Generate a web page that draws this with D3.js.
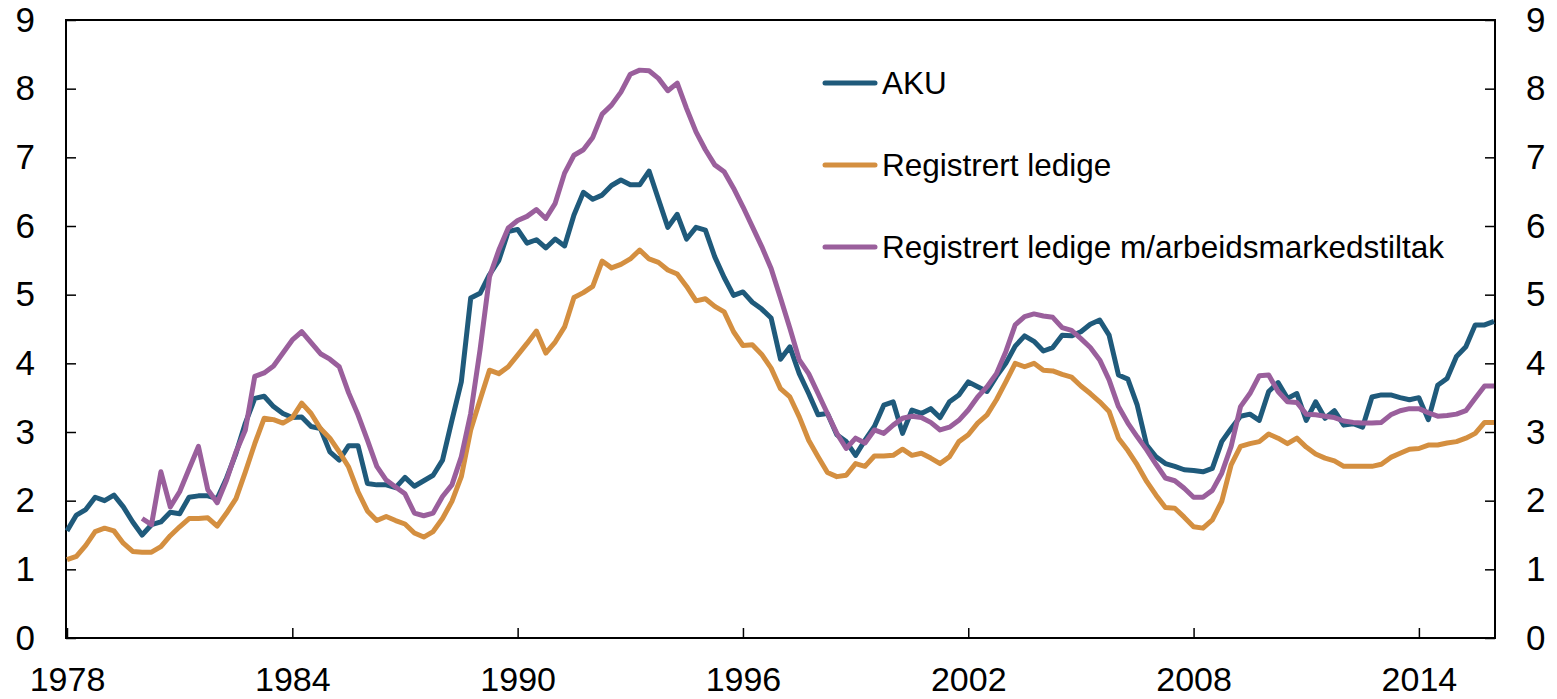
<!DOCTYPE html>
<html>
<head>
<meta charset="utf-8">
<script src="https://cdn.jsdelivr.net/npm/d3@7"></script>
<style>
  body { margin: 0; background: #fff; }
  svg { display: block; font-family: 'Liberation Sans', Arial, sans-serif; }
</style>
</head>
<body>
<svg width="1557" height="699"></svg>
<script>
const startYear = 1978;
const yearTicks = [1978, 1984, 1990, 1996, 2002, 2008, 2014];
const valueTicks = [0, 1, 2, 3, 4, 5, 6, 7, 8, 9];
const seriesNames = ['AKU', 'Registrert ledige', 'Registrert ledige m/arbeidsmarkedstiltak'];
const seriesColors = ['#1f5a7b', '#d48f40', '#9a5f9c'];

// quarterly, 1978K1 - 2016K1
const aku = [
  1.56, 1.79, 1.87, 2.05, 2.0, 2.08, 1.91, 1.69, 1.5, 1.65,
  1.69, 1.83, 1.81, 2.05, 2.07, 2.07, 2.03, 2.33, 2.69, 3.13,
  3.49, 3.52, 3.37, 3.27, 3.21, 3.22, 3.08, 3.05, 2.71, 2.59,
  2.8, 2.8, 2.25, 2.23, 2.23, 2.19, 2.34, 2.21, 2.29, 2.37,
  2.59, 3.17, 3.73, 4.95, 5.02, 5.29, 5.5, 5.92, 5.95, 5.75,
  5.8, 5.68, 5.81, 5.71, 6.16, 6.49, 6.39, 6.45, 6.59, 6.67,
  6.6, 6.6, 6.8, 6.39, 5.98, 6.17, 5.81, 5.98, 5.94, 5.55,
  5.25, 4.99, 5.04, 4.89, 4.79, 4.66, 4.06, 4.24, 3.85, 3.56,
  3.25, 3.27, 2.96, 2.86, 2.66, 2.88, 3.08, 3.39, 3.44, 2.98,
  3.32, 3.27, 3.34, 3.21, 3.44, 3.54, 3.73, 3.66, 3.59, 3.81,
  4.0, 4.25, 4.4, 4.32, 4.18, 4.23, 4.41, 4.4, 4.46, 4.57,
  4.63, 4.41, 3.83, 3.77, 3.39, 2.81, 2.64, 2.54, 2.5, 2.45,
  2.44, 2.42, 2.47, 2.86, 3.05, 3.23, 3.26, 3.17, 3.59, 3.72,
  3.49, 3.56, 3.17, 3.44, 3.2, 3.31, 3.1, 3.12, 3.07, 3.51,
  3.54, 3.54, 3.5, 3.47, 3.5, 3.18, 3.68, 3.78, 4.1, 4.24,
  4.56, 4.56, 4.61
];

const registrert = [
  1.14, 1.19, 1.35, 1.55, 1.6, 1.56, 1.38, 1.26, 1.25, 1.25,
  1.33, 1.49, 1.62, 1.74, 1.74, 1.75, 1.63, 1.82, 2.03, 2.42,
  2.83, 3.2, 3.18, 3.13, 3.21, 3.42, 3.27, 3.05, 2.91, 2.71,
  2.49, 2.13, 1.85, 1.71, 1.77, 1.71, 1.66, 1.53, 1.47, 1.55,
  1.74, 1.99, 2.35, 3.03, 3.47, 3.9, 3.85, 3.95, 4.12, 4.29,
  4.47, 4.15, 4.31, 4.53, 4.96, 5.03, 5.12, 5.49, 5.39, 5.44,
  5.52, 5.65, 5.52, 5.47, 5.36, 5.3, 5.12, 4.91, 4.94, 4.83,
  4.75, 4.46, 4.26, 4.27, 4.13, 3.93, 3.63, 3.51, 3.22, 2.88,
  2.64, 2.41, 2.35, 2.37, 2.54, 2.5, 2.65, 2.65, 2.66, 2.75,
  2.66, 2.69, 2.62, 2.54, 2.64, 2.86, 2.96, 3.13, 3.25, 3.47,
  3.73, 4.0, 3.95, 4.0, 3.9, 3.89, 3.84, 3.8, 3.67, 3.56,
  3.44, 3.3, 2.91, 2.73, 2.52, 2.28, 2.08, 1.9, 1.89, 1.76,
  1.62, 1.6, 1.72, 1.99, 2.52, 2.79, 2.83, 2.86, 2.97, 2.91,
  2.83, 2.91, 2.78, 2.68, 2.62, 2.58, 2.5, 2.5, 2.5, 2.5,
  2.53, 2.63, 2.69, 2.75, 2.76, 2.81, 2.81, 2.84, 2.86, 2.91,
  2.98, 3.14, 3.14
];

const registrertTiltak = [
  null, null, null, null, null, null, null, null, 1.74, 1.65,
  2.42, 1.91, 2.13, 2.46, 2.79, 2.16, 1.97, 2.3, 2.71, 3.03,
  3.81, 3.86, 3.96, 4.15, 4.34, 4.46, 4.3, 4.14, 4.06, 3.95,
  3.57, 3.25, 2.88, 2.5, 2.3, 2.2, 2.1, 1.82, 1.78, 1.82,
  2.06, 2.23, 2.64, 3.27, 4.2, 5.26, 5.65, 5.97, 6.08, 6.14,
  6.24, 6.11, 6.33, 6.77, 7.03, 7.11, 7.29, 7.63, 7.76, 7.95,
  8.21, 8.27, 8.26, 8.15, 7.97, 8.08, 7.71, 7.37, 7.11, 6.89,
  6.79, 6.55, 6.28, 5.99, 5.7, 5.38, 4.95, 4.51, 4.05, 3.85,
  3.56, 3.27, 2.98, 2.76, 2.91, 2.84, 3.03, 2.98, 3.1, 3.2,
  3.23, 3.21, 3.14, 3.03, 3.07, 3.17, 3.32, 3.51, 3.66, 3.85,
  4.17, 4.56, 4.68, 4.72, 4.69, 4.67, 4.52, 4.48, 4.36, 4.23,
  4.05, 3.76, 3.37, 3.13, 2.93, 2.74, 2.53, 2.33, 2.29, 2.18,
  2.05, 2.05, 2.15, 2.4, 2.79, 3.37, 3.56, 3.82, 3.83, 3.59,
  3.44, 3.43, 3.26, 3.25, 3.23, 3.21, 3.16, 3.14, 3.13, 3.13,
  3.14, 3.25, 3.31, 3.34, 3.34, 3.28, 3.23, 3.24, 3.26, 3.31,
  3.49, 3.67, 3.67
];

const quarters = aku.map((d, i) => startYear + i / 4);
const series = [aku, registrert, registrertTiltak];

const MARGINS = { left: 66, right: 1495, top: 20, bottom: 638 };

const x = d3
  .scaleLinear()
  .domain([startYear, startYear + 38])
  .range([67, 1494]);
const y = d3.scaleLinear().domain([0, 9]).range([MARGINS.bottom, MARGINS.top]);

const svg = d3.select('svg');

const styleAxis = (g, size) => {
  g.select('.domain').remove();
  g.selectAll('.tick line').attr('stroke', '#000').attr('stroke-width', 1.5);
  g.selectAll('.tick text')
    .attr('fill', '#000')
    .attr('font-size', size)
    .attr('font-family', "'Liberation Sans', Arial, sans-serif");
};

svg
  .append('g')
  .attr('transform', `translate(${MARGINS.left}, 0)`)
  .call(d3.axisLeft(y).tickValues(valueTicks).tickSize(-10).tickPadding(31))
  .call(styleAxis, 35);

svg
  .append('g')
  .attr('transform', `translate(${MARGINS.right}, 0)`)
  .call(d3.axisRight(y).tickValues(valueTicks).tickSize(-10).tickPadding(31))
  .call(styleAxis, 35);

svg
  .append('g')
  .attr('transform', `translate(0, ${MARGINS.bottom})`)
  .call(
    d3
      .axisBottom(x)
      .tickValues(yearTicks)
      .tickFormat(d3.format('d'))
      .tickSize(-10)
      .tickPadding(29)
  )
  .call(styleAxis, 34);

svg
  .append('rect')
  .attr('x', MARGINS.left)
  .attr('y', MARGINS.top)
  .attr('width', MARGINS.right - MARGINS.left)
  .attr('height', MARGINS.bottom - MARGINS.top)
  .attr('fill', 'none')
  .attr('stroke', '#000')
  .attr('stroke-width', 2);

const line = d3
  .line()
  .defined((d) => d != null)
  .x((d, i) => x(quarters[i]))
  .y((d) => y(d));

svg
  .selectAll('.series')
  .data(series)
  .enter()
  .append('path')
  .classed('series', true)
  .attr('d', (d) => line(d))
  .attr('fill', 'none')
  .attr('stroke', (d, i) => seriesColors[i])
  .attr('stroke-width', 5)
  .attr('stroke-linejoin', 'round');

const legend = svg
  .selectAll('.legend')
  .data(seriesNames)
  .enter()
  .append('g')
  .classed('legend', true)
  .attr('transform', (d, i) => `translate(825, ${83 + i * 82})`);

legend
  .append('line')
  .attr('x1', 0)
  .attr('x2', 50)
  .attr('stroke', (d, i) => seriesColors[i])
  .attr('stroke-width', 5)
  .attr('stroke-linecap', 'round');

legend
  .append('text')
  .text((d) => d)
  .attr('x', 57)
  .attr('y', 11)
  .attr('font-size', 31.5)
  .attr('fill', '#000');
</script>
</body>
</html>
